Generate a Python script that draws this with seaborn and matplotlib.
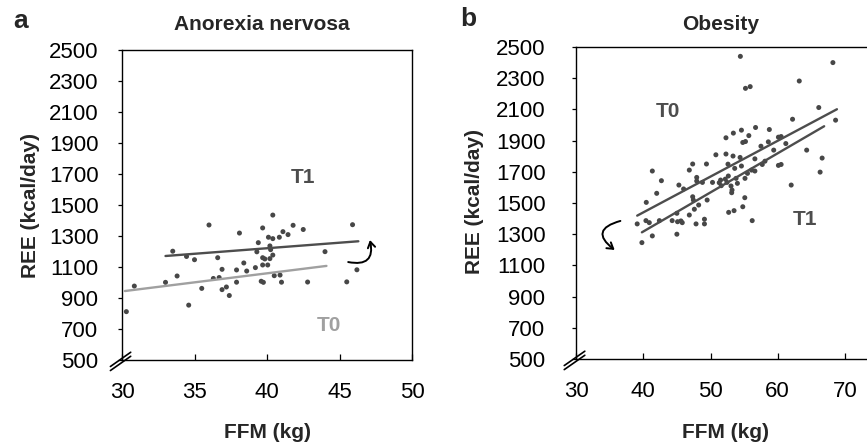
import matplotlib
matplotlib.use("Agg")
import matplotlib.pyplot as plt
import seaborn as sns
import numpy as np
import pandas as pd

# ---------------- data ----------------
# Panel a: Anorexia nervosa
an_ffm = [30.3, 30.85, 33.0, 33.5, 33.8, 34.45, 34.6, 35.0, 35.5, 36.0, 36.3, 36.6, 36.7,
          36.9, 36.9, 37.2, 37.4, 37.9, 37.9, 38.1, 38.4, 38.6, 39.2, 39.3, 39.4, 39.6,
          39.7, 39.7, 39.7, 39.75, 39.85, 40.05, 40.1, 40.2, 40.2, 40.25, 40.4, 40.4, 40.4,
          40.5, 40.85, 40.9, 41.0, 41.1, 41.45, 41.8, 42.5, 42.8, 44.0, 45.5, 45.9, 46.2]
an_ree = [812, 977, 1001, 1202, 1042, 1168, 854, 1147, 962, 1371, 1026, 1160, 1032,
          1085, 954, 971, 916, 1081, 1002, 1319, 1126, 1074, 1096, 1198, 1257, 1008,
          1352, 1160, 1113, 1001, 1152, 1113, 1292, 1236, 1154, 1212, 1435, 1283, 1177,
          1044, 1292, 1048, 1002, 1328, 1309, 1369, 1342, 1003, 1199, 1004, 1373, 1082]
an_t0_line_ffm = [30.2, 44.1]
an_t0_line_ree = [945, 1107]
an_t1_line_ffm = [33.0, 46.3]
an_t1_line_ree = [1171, 1266]

# Panel b: Obesity
ob_ffm = [39.1, 39.8, 40.45, 40.4, 40.9, 41.35, 41.35, 42.0, 42.4, 42.7, 44.3, 45.0, 45.0,
          45.1, 45.3, 45.6, 45.8, 46.0, 46.85, 46.85, 47.35, 47.35, 47.45, 47.6, 47.85, 47.95,
          47.95, 48.24, 48.8, 49.1, 49.1, 49.4, 49.5, 50.3, 50.8, 51.3, 51.5, 51.6, 52.2,
          52.3, 52.3, 52.45, 52.6, 52.65, 52.7, 53.05, 53.15, 53.2, 53.35, 53.4, 53.5, 53.6,
          53.8, 54.0, 54.4, 54.44, 54.6, 54.6, 54.8, 54.8, 55.1, 55.13, 55.2, 55.2, 55.5,
          55.7, 55.9, 56.1, 56.2, 56.6, 56.6, 56.7, 57.5, 57.7, 58.1, 58.6, 58.75, 59.4,
          60.1, 60.1, 60.5, 60.5, 61.2, 62.0, 62.2, 63.2, 64.3, 66.1, 66.3, 66.6, 68.2, 68.6]
ob_ree = [1366, 1246, 1504, 1387, 1374, 1289, 1705, 1562, 1387, 1643, 1387, 1300, 1434,
          1380, 1615, 1385, 1374, 1590, 1711, 1423, 1750, 1540, 1519, 1460, 1366, 1664,
          1641, 1487, 1632, 1396, 1366, 1750, 1519, 1632, 1809, 1630, 1647, 1611, 1653,
          1814, 1918, 1632, 1749, 1673, 1440, 1609, 1566, 1583, 1801, 1948, 1451, 1722,
          1658, 1626, 1792, 2440, 1737, 1967, 1476, 1888, 1534, 1658, 1894, 2235, 1690,
          1932, 2246, 1711, 1387, 1705, 1783, 1984, 1864, 1747, 1768, 1892, 1971, 1839,
          1922, 1741, 1926, 1747, 1881, 1615, 2037, 2282, 1839, 2112, 1698, 1788, 2400, 2031]
ob_t0_line_ffm = [39.1, 68.8]
ob_t0_line_ree = [1419, 2101]
ob_t1_line_ffm = [39.8, 66.9]
ob_t1_line_ree = [1312, 1992]

# annotations (label text positions and arrows, in data units)
an_t1_label = (42.5, 1675)
an_t0_label = (44.3, 725)
an_arrow_start = (45.6, 1132)
an_arrow_end = (47.1, 1274)
ob_t0_label = (43.7, 2084)
ob_t1_label = (64.1, 1395)
ob_arrow_start = (36.6, 1385)
ob_arrow_end = (35.75, 1199)

y_ticks = list(range(500, 2501, 200))
an_x_ticks = [30, 35, 40, 45, 50]
ob_x_ticks = [30, 40, 50, 60, 70]

# ---------------- style ----------------
sns.set_theme(style="white")
plt.rcParams['font.family'] = ['Liberation Sans', 'DejaVu Sans']

DOT = "#474747"
DARK = "#4d4d4d"
LIGHT = "#a0a0a0"

W, H = 867, 446
fig = plt.figure(figsize=(W / 100, H / 100), dpi=100)


def px_axes(l, t, r, b):
    return fig.add_axes([l / W, 1 - b / H, (r - l) / W, (b - t) / H])


ax_a = px_axes(122, 50, 412, 360)
ax_b = px_axes(576, 47, 870, 359)

an_df = pd.DataFrame({"FFM": an_ffm, "REE": an_ree})
ob_df = pd.DataFrame({"FFM": ob_ffm, "REE": ob_ree})

sns.scatterplot(data=an_df, x="FFM", y="REE", ax=ax_a, s=13, color=DOT,
                edgecolor="none", linewidth=0)
sns.lineplot(x=an_t0_line_ffm, y=an_t0_line_ree, ax=ax_a, color=LIGHT, lw=1.7)
sns.lineplot(x=an_t1_line_ffm, y=an_t1_line_ree, ax=ax_a, color=DARK, lw=1.7)

sns.scatterplot(data=ob_df, x="FFM", y="REE", ax=ax_b, s=13, color=DOT,
                edgecolor="none", linewidth=0)
sns.lineplot(x=ob_t0_line_ffm, y=ob_t0_line_ree, ax=ax_b, color=DARK, lw=1.7)
sns.lineplot(x=ob_t1_line_ffm, y=ob_t1_line_ree, ax=ax_b, color=DARK, lw=1.7)

ax_a.set_xlim(30, 50)
ax_b.set_xlim(30, 30 + (870 - 576) / 6.725)
for ax, xt, ypad in ((ax_a, an_x_ticks, 14), (ax_b, ob_x_ticks, 19)):
    ax.set_ylim(500, 2500)
    ax.set_yticks(y_ticks)
    ax.set_xticks(xt)
    ax.set_xlabel("")
    ax.set_ylabel("")
    ax.tick_params(axis="x", direction="in", length=4, width=0.9, color="black",
                   labelsize=16, pad=16, labelcolor="black")
    ax.tick_params(axis="y", direction="out", length=3, width=0.9, color="black",
                   labelsize=16, pad=ypad, labelcolor="black")
    ax.tick_params(left=True, bottom=True)
    for sp in ax.spines.values():
        sp.set_color("black")
        sp.set_linewidth(1.0)
        sp.set_visible(True)
    # axis break marks
    for off in (0.0, 0.013):
        ax.plot([-0.04, 0.03], [-0.034 + off, 0.012 + off],
                transform=ax.transAxes, color="black", lw=1.2, clip_on=False)

# text labels
ax_a.text(*an_t1_label, "T1", color=DARK, fontsize=15, fontweight="bold",
          ha="center", va="center")
ax_a.text(*an_t0_label, "T0", color=LIGHT, fontsize=15, fontweight="bold",
          ha="center", va="center")
ax_b.text(*ob_t0_label, "T0", color=DARK, fontsize=15, fontweight="bold",
          ha="center", va="center")
ax_b.text(*ob_t1_label, "T1", color=DARK, fontsize=15, fontweight="bold",
          ha="center", va="center")

ax_a.annotate("", xy=an_arrow_end, xytext=an_arrow_start,
              arrowprops=dict(arrowstyle="->,head_length=0.35,head_width=0.22",
                              connectionstyle="arc3,rad=0.75", color="black", lw=1.4,
                              shrinkA=0, shrinkB=0))
ax_b.annotate("", xy=ob_arrow_end, xytext=ob_arrow_start,
              arrowprops=dict(arrowstyle="->,head_length=0.35,head_width=0.22",
                              connectionstyle="arc3,rad=1.0", color="black", lw=1.4,
                              shrinkA=0, shrinkB=0))

# titles, axis labels, panel letters
fig.text(262 / W, 1 - 24 / H, "Anorexia nervosa", fontsize=15, fontweight="bold",
         ha="center", va="center")
fig.text(721 / W, 1 - 24 / H, "Obesity", fontsize=15, fontweight="bold",
         ha="center", va="center")
fig.text(21 / W, 1 - 21 / H, "a", fontsize=19, fontweight="bold", ha="center", va="center")
fig.text(468 / W, 1 - 19 / H, "b", fontsize=19, fontweight="bold", ha="center", va="center")
fig.text(31 / W, 1 - 205 / H, "REE (kcal/day)", fontsize=15, fontweight="bold",
         rotation=90, ha="center", va="center")
fig.text(475 / W, 1 - 202 / H, "REE (kcal/day)", fontsize=15, fontweight="bold",
         rotation=90, ha="center", va="center")
fig.text(267 / W, 1 - 433 / H, "FFM (kg)", fontsize=15, fontweight="bold",
         ha="center", va="center")
fig.text(725 / W, 1 - 433 / H, "FFM (kg)", fontsize=15, fontweight="bold",
         ha="center", va="center")

fig.savefig("out.png", dpi=100)
